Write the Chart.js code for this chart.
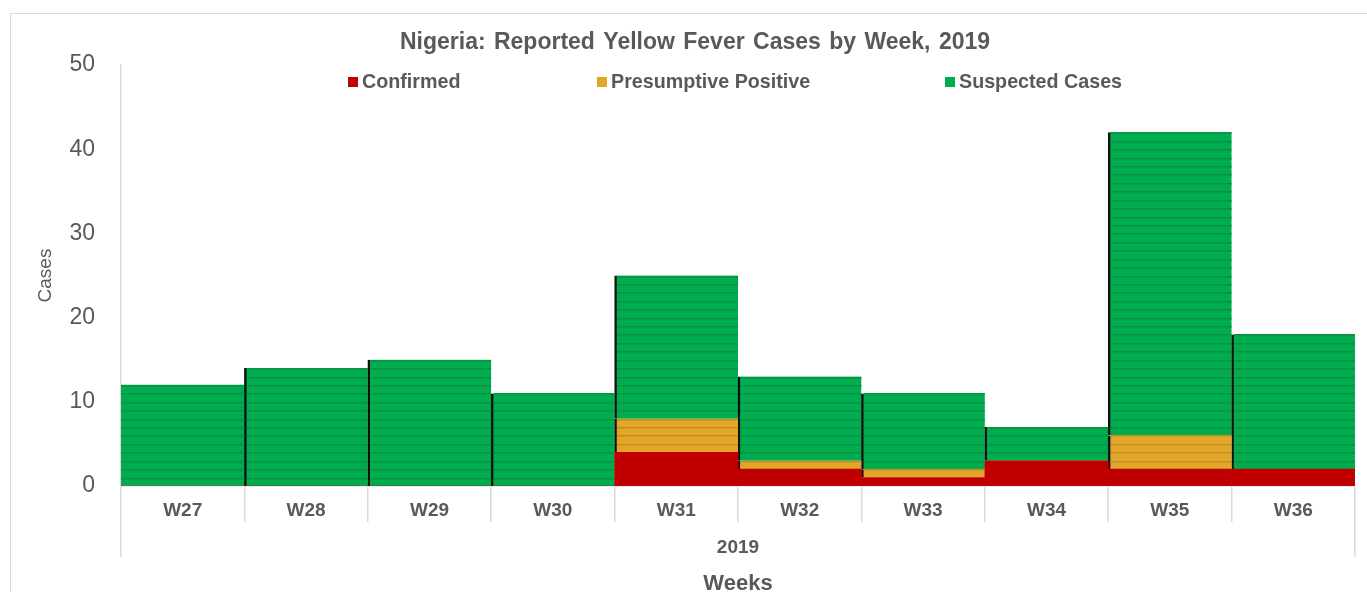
<!DOCTYPE html>
<html>
<head>
<meta charset="utf-8">
<script src="https://cdn.jsdelivr.net/npm/chart.js@4.4.1/dist/chart.umd.min.js"></script>
<style>
    html, body { margin: 0; padding: 0; background: #fff; overflow: hidden; }
    #frame { position: absolute; left: 10px; top: 13px; width: 1400px; height: 700px; border: 1.5px solid #d9d9d9; }
    #chart { position: absolute; left: 0; top: 0; }
</style>
</head>
<body>
<div id="frame"></div>
<canvas id="chart" width="1367" height="592"></canvas>
<script>
const weeks = ['W27', 'W28', 'W29', 'W30', 'W31', 'W32', 'W33', 'W34', 'W35', 'W36'];
const confirmed = [0, 0, 0, 0, 4, 2, 1, 3, 2, 2];
const presumptive = [0, 0, 0, 0, 4, 1, 1, 0, 4, 0];
const suspected = [12, 14, 15, 11, 17, 10, 9, 4, 36, 16];
const yearLabels = ['2019'];
const yTicks = [0, 10, 20, 30, 40, 50];

const TEXT = '#595959';
const LINE = '#d9d9d9';
Chart.defaults.font.family = '"Liberation Sans", Arial, sans-serif';
Chart.defaults.color = TEXT;

// left edge shadow on the stacked segments, except the first bar
const leftEdge = ctx => ({ left: ctx.dataIndex === 0 ? 0 : 2.5, top: 0, right: 0, bottom: 0 });

// darker horizontal stripes, one per case, like the fill texture in the original
const stripes = {
    id: 'stripes',
    afterDatasetsDraw(chart) {
        const ctx = chart.ctx;
        const y = chart.scales.y;
        chart.data.datasets.forEach((ds, i) => {
            if (!ds.stripe) return;
            const meta = chart.getDatasetMeta(i);
            meta.data.forEach((bar, j) => {
                const v = ds.data[j];
                if (!v) return;
                const base = y.getValueForPixel(bar.base);
                const left = bar.x - bar.width / 2 + (j === 0 ? 0 : 2.5);
                const right = bar.x + bar.width / 2;
                ctx.save();
                ctx.strokeStyle = ds.stripe;
                ctx.lineWidth = 1.5;
                for (let k = 1; k <= v; k++) {
                    const py = Math.round(y.getPixelForValue(base + k)) + 0.75;
                    ctx.beginPath();
                    ctx.moveTo(left, py);
                    ctx.lineTo(right, py);
                    ctx.stroke();
                }
                ctx.restore();
            });
        });
    }
};

// title and legend placed where the original has them
const header = {
    id: 'header',
    afterDraw(chart) {
        const ctx = chart.ctx;
        ctx.save();
        ctx.fillStyle = TEXT;
        ctx.textBaseline = 'middle';
        ctx.textAlign = 'center';
        ctx.font = 'bold 23px "Liberation Sans", Arial, sans-serif';
        ctx.wordSpacing = '2px';
        ctx.fillText('Nigeria: Reported Yellow Fever Cases by Week, 2019', 695, 43);
        ctx.wordSpacing = '0px';

        const xs = [348, 597, 945];
        ctx.textAlign = 'left';
        ctx.font = 'bold 19.7px "Liberation Sans", Arial, sans-serif';
        chart.data.datasets.forEach((ds, i) => {
            ctx.fillStyle = ds.backgroundColor;
            ctx.fillRect(xs[i], 77, 10, 10);
            ctx.fillStyle = TEXT;
            ctx.fillText(ds.label, xs[i] + 14, 83);
        });
        ctx.restore();
    }
};

new Chart(document.getElementById('chart'), {
    type: 'bar',
    data: {
        labels: weeks,
        datasets: [
            { label: 'Confirmed', data: confirmed, backgroundColor: '#c00000', borderWidth: 0 },
            { label: 'Presumptive Positive', data: presumptive, backgroundColor: '#e2a628',
              borderColor: '#111', borderWidth: leftEdge, stripe: '#c48e22' },
            { label: 'Suspected Cases', data: suspected, backgroundColor: '#00ad4e',
              borderColor: '#111', borderWidth: leftEdge, stripe: '#0b8f42' }
        ]
    },
    options: {
        responsive: false,
        animation: false,
        layout: { padding: { top: 65, right: 12, left: 0, bottom: 0 } },
        datasets: { bar: { barPercentage: 1, categoryPercentage: 1, borderSkipped: false } },
        plugins: {
            legend: { display: false },
            title: { display: false },
            tooltip: { enabled: false }
        },
        scales: {
            x: {
                stacked: true,
                weight: 0,
                grid: { offset: true, drawOnChartArea: false, color: LINE, lineWidth: 1.5, tickLength: 36 },
                border: { color: LINE, width: 1.5 },
                ticks: { font: { size: 19, weight: 'bold' }, padding: -23, maxRotation: 0, autoSkip: false },
                afterFit: s => { s.height = 36; }
            },
            x2: {
                type: 'category',
                position: 'bottom',
                labels: yearLabels,
                offset: true,
                weight: 1,
                grid: { offset: true, drawOnChartArea: false, color: LINE, lineWidth: 1.5, tickLength: 35 },
                border: { display: false },
                ticks: { font: { size: 19, weight: 'bold' }, padding: -21 },
                title: { display: true, text: 'Weeks', font: { size: 22, weight: 'bold' }, padding: { top: 0, bottom: -5 } },
                afterFit: s => { s.height = 70; }
            },
            y: {
                stacked: true,
                min: 0,
                max: 50,
                afterBuildTicks: s => { s.ticks = yTicks.map(v => ({ value: v })); },
                grid: { display: false, drawTicks: false },
                border: { color: LINE, width: 1.5 },
                ticks: { font: { size: 23 }, padding: 26 },
                title: { display: true, text: 'Cases', font: { size: 19 }, padding: { top: 34, bottom: 0 } },
                afterFit: s => { s.width = 121; }
            }
        }
    },
    plugins: [stripes, header]
});
</script>
</body>
</html>
